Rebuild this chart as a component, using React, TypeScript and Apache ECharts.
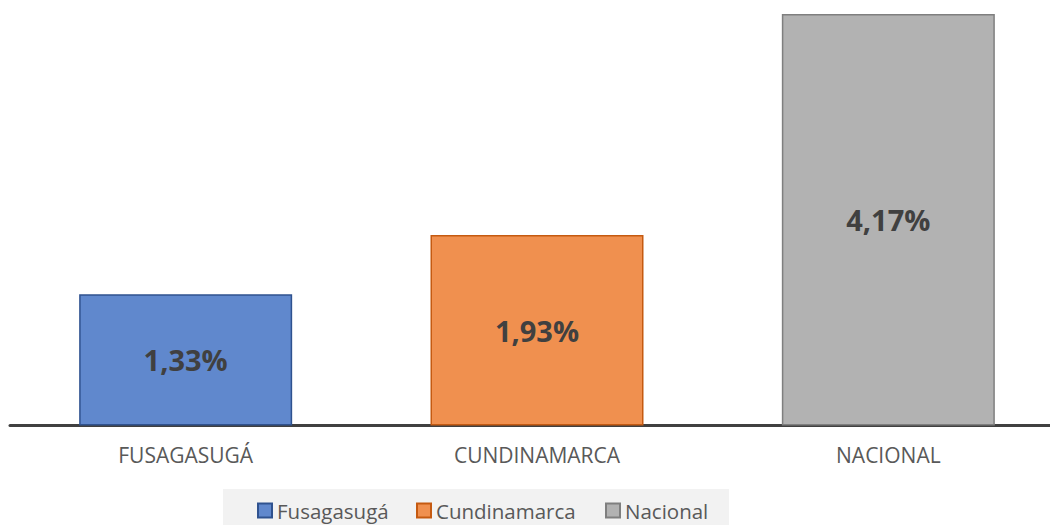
import React, { useEffect, useRef } from "react";
import * as echarts from "echarts";

const categories = ["FUSAGASUGÁ", "CUNDINAMARCA", "NACIONAL"];
const seriesNames = ["Fusagasugá", "Cundinamarca", "Nacional"];
const values = [1.33, 1.93, 4.17];
const fills = ["#6088cd", "#f0904f", "#b2b2b2"];
const borders = ["#2f528f", "#c55a11", "#7f7f7f"];
const legendLefts = [257, 416, 605];

const FONT = "'Open Sans', 'Noto Sans', sans-serif";

export default function App() {
  const ref = useRef<HTMLDivElement>(null);
  useEffect(() => {
    if (!ref.current) return;
    const chart = echarts.init(ref.current, undefined, { renderer: "svg" });
    const series = seriesNames.map((name, i) => ({
      name,
      type: "bar",
      stack: "all",
      barWidth: 213,
      data: categories.map((_, j) => (j === i ? values[i] : "-")),
      itemStyle: { color: fills[i], borderColor: borders[i], borderWidth: 1.5 },
      label: {
        show: true,
        position: "inside",
        formatter: (p: any) => p.value.toFixed(2).replace(".", ",") + "%",
        fontSize: 29,
        fontWeight: "bold",
        color: "#404040",
        fontFamily: FONT,
      },
    }));
    chart.setOption({
      animation: false,
      textStyle: { fontFamily: FONT },
      grid: { left: 10, right: 6, top: 14, bottom: 99.5, containLabel: false },
      graphic: [
        {
          type: "rect",
          shape: { x: 223, y: 489, width: 506, height: 37 },
          style: { fill: "#f2f2f2" },
          z: -1,
        },
      ],
      legend: seriesNames.map((name, i) => ({
        data: [name],
        left: legendLefts[i],
        top: 500,
        padding: 0,
        itemWidth: 14,
        itemHeight: 14,
        icon: "rect",
        textStyle: { fontSize: 20.5, lineHeight: 20, color: "#595959", fontFamily: FONT },
      })),
      xAxis: {
        type: "category",
        data: categories,
        axisLine: { lineStyle: { color: "#404040", width: 3 } },
        axisTick: { show: false },
        axisLabel: { fontSize: 21, color: "#595959", margin: 19, fontFamily: FONT },
      },
      yAxis: {
        type: "value",
        min: 0,
        max: (v: any) => v.max,
        show: false,
        splitLine: { show: false },
      },
      series,
    });
    return () => chart.dispose();
  }, []);
  return (
    <div
      style={{ position: "absolute", left: 0, top: 0, width: 1050, height: 525, overflow: "hidden", background: "#fff" }}
    >
      <div ref={ref} style={{ width: 1070, height: 525 }} />
    </div>
  );
}
